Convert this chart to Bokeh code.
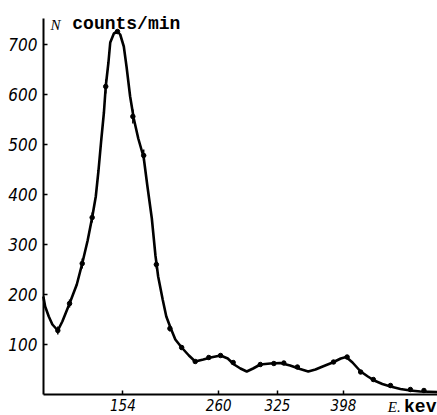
from bokeh.plotting import figure
from bokeh.models import Range1d, FixedTicker, Label, ColumnDataSource
from bokeh.embed import file_html
from bokeh.resources import INLINE

# smooth curve (energy in keV, counts per minute)
curve_e = [66, 68, 72, 76, 82, 87, 95, 103, 109, 115, 120, 124, 127, 130, 133, 135, 138, 140,
           144, 148, 151, 155, 158, 162, 166, 171, 177, 181, 186, 190, 193, 198, 202, 207,
           212, 219, 227, 234, 243, 251, 262, 270, 277, 284, 291, 298, 306, 317, 328, 339,
           350, 359, 367, 375, 386, 395, 401, 408, 417, 425, 432, 441, 450, 461, 472, 483, 502]
curve_n = [196, 176, 156, 140, 128, 146, 182, 220, 262, 308, 354, 396, 448, 508, 564, 616, 664, 704,
           722, 726, 720, 696, 656, 596, 552, 512, 474, 418, 352, 278, 236, 190, 156, 132,
           110, 94, 78, 66, 70, 74, 78, 72, 60, 52, 46, 52, 60, 62, 63, 58,
           51, 46, 50, 56, 64, 72, 75, 64, 46, 36, 28, 21, 16, 11, 8, 6, 5]

# measured points
pts_e = [82, 95, 109, 120, 135, 148, 165, 177, 191, 206, 219, 234, 249, 262, 276, 306,
         321, 332, 347, 387, 402, 417, 431, 450, 472, 487]
pts_n = [128, 182, 262, 354, 616, 726, 556, 478, 260, 132, 94, 66, 74, 78, 64, 60,
         62, 63, 55, 65, 75, 45, 30, 18, 10, 8]
err = [8, 8, 10, 10, 14, 4, 14, 12, 8, 6, 4, 3, 3, 3, 3, 3,
       3, 3, 3, 3, 3, 3, 3, 3, 3, 3]

x_ticks = [154, 260, 325, 398]
y_ticks = [100, 200, 300, 400, 500, 600, 700]

E_MIN, E_MAX, N_MAX = 66.2, 502, 752

p = figure(width=437, height=415, output_backend="svg", toolbar_location=None,
           x_range=Range1d(18.6, E_MAX), y_range=Range1d(-42, 788),
           min_border_left=0, min_border_right=0, min_border_top=0, min_border_bottom=0)
p.outline_line_color = None
p.grid.visible = False
p.background_fill_color = "white"
p.border_fill_color = "white"

src = ColumnDataSource(dict(x=pts_e, y=pts_n,
                            lo=[n - e for n, e in zip(pts_n, err)],
                            hi=[n + e for n, e in zip(pts_n, err)]))
p.line(curve_e, curve_n, line_color="black", line_width=2.6)
p.segment(x0="x", y0="lo", x1="x", y1="hi", source=src, line_color="black", line_width=1.5)
p.scatter(x="x", y="y", source=src, size=4.5, color="black")

tick_font = "Liberation Sans Narrow, DejaVu Sans Condensed, sans-serif"
for ax in (p.xaxis[0], p.yaxis[0]):
    ax.axis_line_width = 2
    ax.axis_line_color = "black"
    ax.major_tick_in = 4
    ax.major_tick_out = 0
    ax.minor_tick_line_color = None
    ax.major_tick_line_width = 1.5
    ax.major_label_text_font = tick_font
    ax.major_label_text_font_style = "italic"
    ax.major_label_text_color = "black"

xa = p.xaxis[0]
xa.ticker = FixedTicker(ticks=x_ticks)
xa.fixed_location = 0
xa.bounds = (E_MIN, E_MAX)
xa.major_label_text_font_size = "15px"
xa.major_label_standoff = 4

ya = p.yaxis[0]
ya.ticker = FixedTicker(ticks=y_ticks)
ya.fixed_location = E_MIN
ya.bounds = (0, N_MAX)
ya.major_label_text_font_size = "17px"
ya.major_label_standoff = 6

p.add_layout(Label(x=74, y=740, text="N", text_font="Liberation Serif",
                   text_font_style="italic", text_font_size="15px", text_color="black",
                   text_baseline="alphabetic"))
p.add_layout(Label(x=98, y=742, text="counts/min", text_font="Liberation Mono",
                   text_font_style="bold", text_font_size="18px", text_color="black",
                   text_baseline="alphabetic"))
p.add_layout(Label(x=447, y=-24, text="E.", text_font="Liberation Serif",
                   text_font_style="italic", text_font_size="15px", text_color="black",
                   text_baseline="alphabetic"))
p.add_layout(Label(x=465, y=-24, text="kev", text_font="Liberation Mono",
                   text_font_style="bold", text_font_size="18px", text_color="black",
                   text_baseline="alphabetic"))

open("out.html", "w").write(file_html(p, INLINE))
